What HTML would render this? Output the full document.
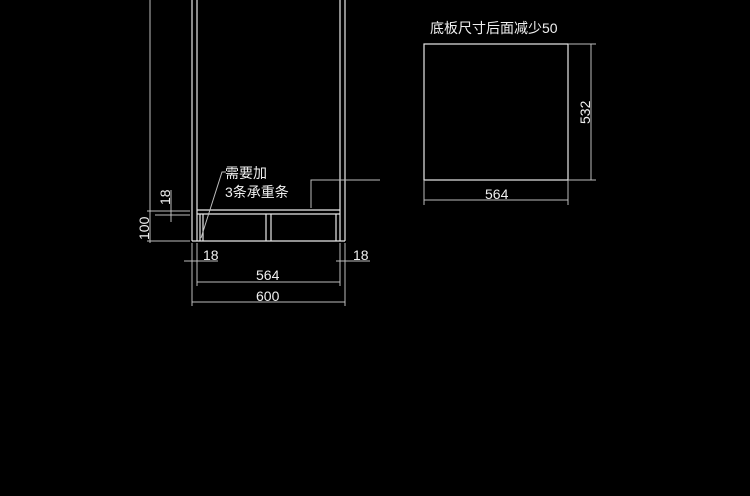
<!DOCTYPE html>
<html><head><meta charset="utf-8"><style>
html,body{margin:0;padding:0;background:#000;}
svg{display:block}
text{font-family:"Liberation Sans","Noto Sans CJK SC",sans-serif;fill:#f0f0f0;font-size:14px}
</style></head><body>
<svg width="750" height="496" viewBox="0 0 750 496" xmlns="http://www.w3.org/2000/svg">
<g stroke="#e8e8e8" stroke-width="1.2" fill="none">
<!-- cabinet sides -->
<line x1="192" y1="0" x2="192" y2="241"/>
<line x1="197" y1="0" x2="197" y2="241"/>
<line x1="340" y1="0" x2="340" y2="241"/>
<line x1="345" y1="0" x2="345" y2="241"/>
<line x1="192" y1="241" x2="345" y2="241"/>
<!-- shelf -->
<line x1="197" y1="210" x2="340" y2="210"/>
<line x1="197" y1="214" x2="340" y2="214"/>
<!-- supports -->
<line x1="200" y1="214" x2="200" y2="241"/><line x1="203" y1="214" x2="203" y2="241"/>
<line x1="266" y1="214" x2="266" y2="241"/><line x1="271" y1="214" x2="271" y2="241"/>
<line x1="336" y1="214" x2="336" y2="241"/>
</g>
<g stroke="#bdbdbd" stroke-width="1" fill="none">
<!-- left dims -->
<line x1="150" y1="0" x2="150" y2="243"/>
<line x1="147" y1="211" x2="190" y2="211"/>
<line x1="147" y1="241" x2="190" y2="241"/>
<line x1="155" y1="215" x2="190" y2="215"/>
<line x1="171" y1="190" x2="171" y2="222"/>
<!-- bottom ext lines -->
<line x1="192" y1="243" x2="192" y2="306"/>
<line x1="197" y1="243" x2="197" y2="286"/>
<line x1="340" y1="243" x2="340" y2="286"/>
<line x1="345" y1="243" x2="345" y2="306"/>
<line x1="184" y1="261" x2="218" y2="261"/>
<line x1="336" y1="261" x2="370" y2="261"/>
<line x1="197" y1="282" x2="340" y2="282"/>
<line x1="192" y1="302" x2="345" y2="302"/>
<!-- leaders -->
<polyline points="201,238 222,172 226,172"/>
<polyline points="311,208 311,180 380,180"/>
<!-- right drawing -->
<rect x="424" y="44" width="144" height="136" stroke="#e8e8e8" stroke-width="1.2"/>
<line x1="568" y1="44" x2="596" y2="44"/>
<line x1="568" y1="180" x2="596" y2="180"/>
<line x1="591" y1="44" x2="591" y2="180"/>
<line x1="424" y1="180" x2="424" y2="205"/>
<line x1="568" y1="180" x2="568" y2="205"/>
<line x1="424" y1="200" x2="568" y2="200"/>
</g>
<text x="225" y="178">需要加</text>
<text x="225" y="197">3条承重条</text>
<text x="203" y="260">18</text>
<text x="353" y="260">18</text>
<text x="256" y="280">564</text>
<text x="256" y="301">600</text>
<text transform="translate(170,205) rotate(-90)">18</text>
<text transform="translate(149,240) rotate(-90)">100</text>
<text x="430" y="33">底板尺寸后面减少50</text>
<text transform="translate(590,124) rotate(-90)">532</text>
<text x="485" y="199">564</text>
</svg>
</body></html>
